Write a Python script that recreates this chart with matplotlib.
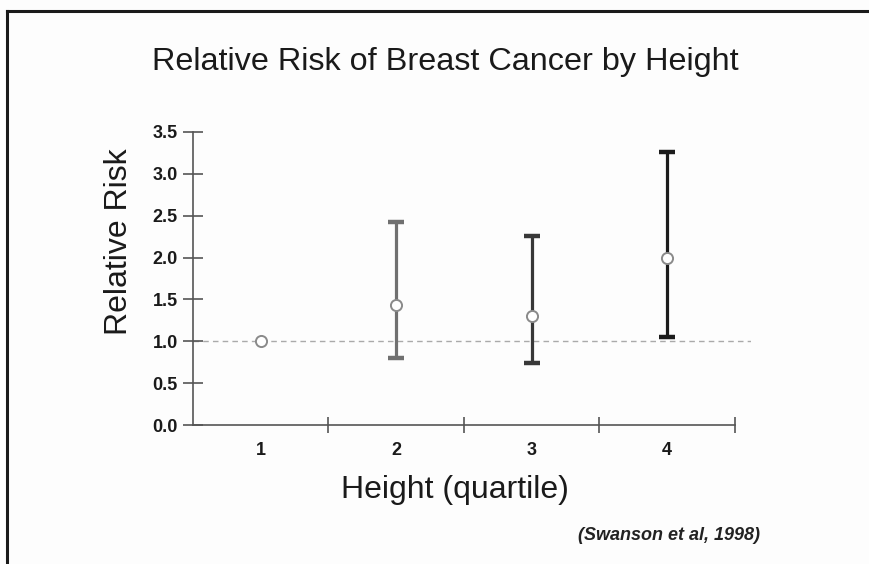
import matplotlib.pyplot as plt
from matplotlib.lines import Line2D

plt.rcParams['font.family'] = ['Liberation Sans', 'DejaVu Sans']

quartiles = [1, 2, 3, 4]
quartile_labels = ['1', '2', '3', '4']
relative_risk = [1.00, 1.43, 1.30, 2.00]
ci_low = [1.00, 0.80, 0.74, 1.05]
ci_high = [1.00, 2.43, 2.26, 3.26]
bar_colors = ['#888888', '#707070', '#383838', '#1c1c1c']

fig = plt.figure(figsize=(8.69, 5.64), dpi=100, facecolor='#fdfdfd')
ax = fig.add_axes([193 / 869, 139 / 564, 558 / 869, 293 / 564])
ax.set_facecolor('#fdfdfd')

ax.set_xlim(0.5, 4.62)
ax.set_ylim(0, 3.5)

# reference line at RR = 1
ax.axhline(1.0, color='#aaaaaa', lw=1.0, ls=(0, (4, 3)), zorder=1)

for x, rr, lo, hi, c in zip(quartiles, relative_risk, ci_low, ci_high, bar_colors):
    if hi > lo:
        ax.errorbar(x, rr, yerr=[[rr - lo], [hi - rr]], fmt='none',
                    ecolor=c, elinewidth=2.3, capsize=6, capthick=3.2, zorder=2)
    ax.plot(x, rr, 'o', ms=8, mfc='white', mec='#8a8a8a', mew=1.4,
            zorder=3, clip_on=False)

for s in ['top', 'right']:
    ax.spines[s].set_visible(False)
for s in ['left', 'bottom']:
    ax.spines[s].set_color('#555555')
    ax.spines[s].set_linewidth(1.2)
ax.spines['bottom'].set_bounds(0.5, 4.5)

ax.set_yticks([0, 0.5, 1.0, 1.5, 2.0, 2.5, 3.0, 3.5])
ax.set_yticklabels(['0.0', '0.5', '1.0', '1.5', '2.0', '2.5', '3.0', '3.5'],
                   fontsize=13, fontweight='bold', color='#1a1a1a')
ax.tick_params(axis='y', direction='inout', length=14, width=1.2,
               color='#555555', pad=4)

# category labels in the middle, boundary ticks between
ax.set_xticks([1.5, 2.5, 3.5, 4.5])
ax.set_xticklabels([])
ax.set_xticks(quartiles, minor=True)
ax.set_xticklabels(quartile_labels, minor=True, fontsize=13,
                   fontweight='bold', color='#1a1a1a')
ax.tick_params(axis='x', which='major', direction='inout', length=12,
               width=1.2, color='#555555')
ax.tick_params(axis='x', which='minor', length=0, pad=12)

fig.text(445 / 869, 1 - 62 / 564, 'Relative Risk of Breast Cancer by Height',
         ha='center', va='center', fontsize=23.3, color='#1a1a1a')
fig.text(119 / 869, 1 - 242 / 564, 'Relative Risk', rotation=90,
         ha='center', va='center', fontsize=23, color='#1a1a1a')
fig.text(455 / 869, 1 - 490 / 564, 'Height (quartile)',
         ha='center', va='center', fontsize=23, color='#1a1a1a')
fig.text(669 / 869, 1 - 536 / 564, '(Swanson et al, 1998)',
         ha='center', va='center', fontsize=13, fontweight='bold',
         fontstyle='italic', color='#222222')

# page frame: top and left edges
fig.add_artist(Line2D([7 / 869, 1], [1 - 11 / 564, 1 - 11 / 564],
                      transform=fig.transFigure, color='#1a1a1a', lw=2.2))
fig.add_artist(Line2D([7 / 869, 7 / 869], [0, 1 - 11 / 564],
                      transform=fig.transFigure, color='#1a1a1a', lw=2.2))

fig.savefig('out.png', dpi=100, facecolor=fig.get_facecolor())
